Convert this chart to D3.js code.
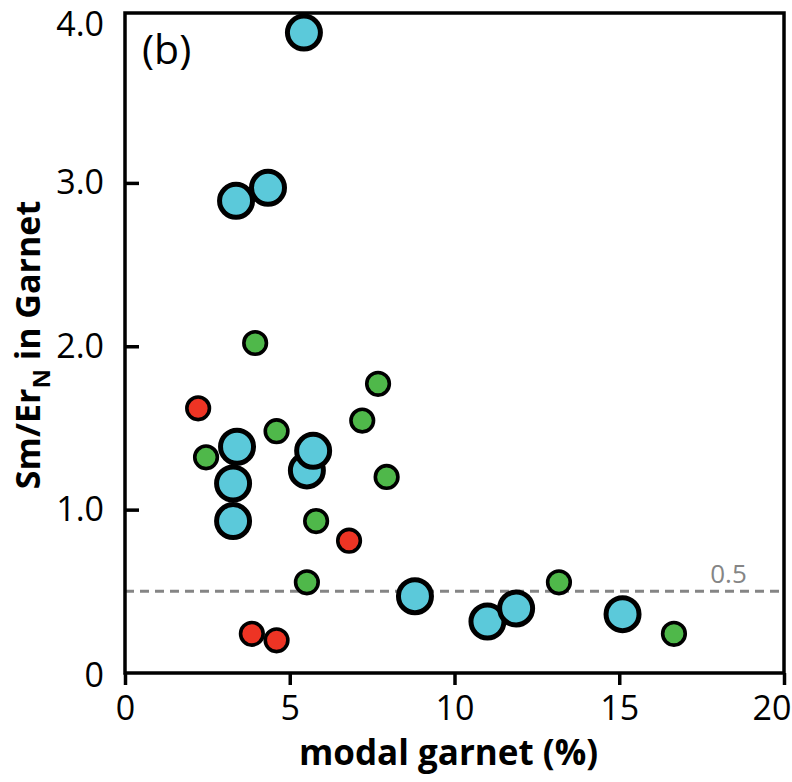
<!DOCTYPE html>
<html>
<head>
<meta charset="utf-8">
<script src="https://cdn.jsdelivr.net/npm/d3@7"></script>
<style>
  body { margin: 0; background: #fff; }
  text { font-family: "Open Sans", "Noto Sans", sans-serif; }
</style>
</head>
<body>
<script>
// modal garnet (%) vs Sm/Er_N, three groups
const blueX = [5.43, 4.34, 3.37, 3.40, 3.28, 3.28, 5.52, 5.71, 8.80, 11.0, 11.87, 15.1]
const blueY = [3.92, 2.97, 2.89, 1.385, 1.16, 0.93, 1.24, 1.36, 0.47, 0.315, 0.395, 0.36]
const greenX = [3.95, 7.68, 7.2, 4.6, 2.46, 7.94, 5.8, 5.52, 13.17, 16.66]
const greenY = [2.02, 1.77, 1.545, 1.48, 1.32, 1.20, 0.93, 0.555, 0.555, 0.24]
const redX = [2.22, 6.8, 3.85, 4.6]
const redY = [1.62, 0.81, 0.24, 0.2]
const xTicks = [0, 5, 10, 15, 20]
const yTicks = [0, 1, 2, 3, 4]
const refLine = 0.5

const margin = { top: 13, right: 8, bottom: 109, left: 125 }
const width = 792 - margin.left - margin.right
const height = 782 - margin.top - margin.bottom

const svg = d3.select('body').append('svg')
  .attr('width', 792)
  .attr('height', 782)
  .append('g')
  .attr('transform', `translate(${margin.left}, ${margin.top})`)

const x = d3.scaleLinear().domain([0, 20]).range([0, width])
const y = d3.scaleLinear().domain([0, 4.04]).range([height, 0])

// dashed reference line + label
svg.append('line')
  .attr('x1', 0).attr('x2', width)
  .attr('y1', y(refLine)).attr('y2', y(refLine))
  .attr('stroke', '#858585')
  .attr('stroke-width', 3)
  .attr('stroke-dasharray', '9,6')

svg.append('text')
  .attr('x', x(18.87)).attr('y', y(refLine) - 8)
  .attr('text-anchor', 'end')
  .attr('fill', '#858585')
  .attr('font-size', 26)
  .text('0.5')

// axes
const xAxis = svg.append('g')
  .attr('transform', `translate(0, ${height})`)
  .call(d3.axisBottom(x).tickValues(xTicks).tickFormat(d3.format('d')).tickSize(12).tickPadding(11))

const yAxis = svg.append('g')
  .call(d3.axisLeft(y).tickValues(yTicks).tickFormat(d => d === 0 ? '0' : d3.format('.1f')(d)).tickSize(-14).tickPadding(21))

for (const ax of [xAxis, yAxis]) {
  ax.select('.domain').remove()
  ax.selectAll('line').attr('stroke', '#000').attr('stroke-width', 3.5)
  ax.selectAll('text').attr('font-size', 34).attr('fill', '#000')
    .style('font-family', '"Open Sans", sans-serif')
}
yAxis.selectAll('.tick').filter(d => d === 0 || d === 4).select('line').remove()
// end labels sit a little inside, like the original
yAxis.selectAll('.tick').filter(d => d === 4).select('text').attr('y', 5)
yAxis.selectAll('.tick').filter(d => d === 0).select('text').attr('y', 3)
xAxis.selectAll('.tick').filter(d => d === 20).select('text')
  .attr('text-anchor', 'end').attr('x', 7)

// frame
svg.append('rect')
  .attr('width', width).attr('height', height)
  .attr('fill', 'none')
  .attr('stroke', '#000')
  .attr('stroke-width', 3.5)

// points
function dots(xs, ys, fill, r, sw) {
  svg.append('g')
    .selectAll('circle')
    .data(xs.map((v, i) => [v, ys[i]]))
    .join('circle')
    .attr('cx', d => x(d[0]))
    .attr('cy', d => y(d[1]))
    .attr('r', r)
    .attr('fill', fill)
    .attr('stroke', '#000')
    .attr('stroke-width', sw)
}
dots(greenX, greenY, '#4fb84a', 11.3, 3.6)
dots(redX, redY, '#ee3424', 11.3, 3.6)
dots(blueX, blueY, '#5bc9da', 16.5, 5)

// panel label
svg.append('text')
  .attr('x', 17).attr('y', 51)
  .attr('font-size', 41)
  .text('(b)')

// axis titles
svg.append('text')
  .attr('x', width / 2 - 6).attr('y', height + 92)
  .attr('text-anchor', 'middle')
  .attr('font-size', 35)
  .attr('font-weight', 'bold')
  .text('modal garnet (%)')

const yt = svg.append('text')
  .attr('transform', `translate(${-85}, ${332}) rotate(-90)`)
  .attr('text-anchor', 'middle')
  .attr('font-size', 34)
  .attr('font-weight', 'bold')
yt.append('tspan').text('Sm/Er')
yt.append('tspan').attr('font-size', 24).attr('dy', 10).text('N')
yt.append('tspan').attr('dy', -10).text(' in Garnet')
</script>
</body>
</html>
